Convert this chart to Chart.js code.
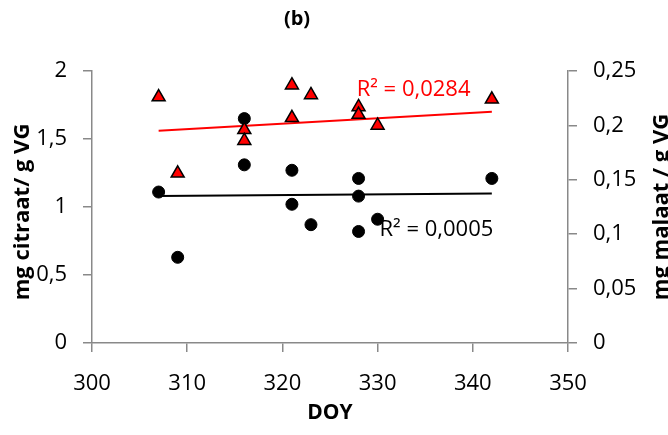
<!DOCTYPE html>
<html lang="nl">
<head>
  <meta charset="UTF-8" />
  <title>(b) citraat en malaat</title>
  <script src="https://cdn.jsdelivr.net/npm/chart.js"></script>
  <style>
    body { margin: 0; background: #fff; }
    #wrap { width: 668px; height: 435px; }
  </style>
</head>
<body>
  <div id="wrap"><canvas id="chart" width="668" height="435"></canvas></div>

  <script>
    // citraat (linker as), zwarte bolletjes
    const citraatDoy = [307, 309, 316, 316, 321, 321, 323, 328, 328, 328, 330, 342];
    const citraat    = [1.11, 0.63, 1.65, 1.31, 1.27, 1.02, 0.87, 1.21, 1.08, 0.82, 0.91, 1.21];

    // malaat (rechter as), rode driehoekjes
    const malaatDoy = [307, 309, 316, 316, 321, 321, 323, 328, 328, 330, 342];
    const malaat    = [0.226, 0.156, 0.196, 0.186, 0.237, 0.207, 0.228, 0.217, 0.210, 0.200, 0.224];

    const trendDoy     = [307, 342];
    const trendCitraat = [1.08, 1.10];
    const trendMalaat  = [0.195, 0.2125];

    const r2Citraat = 'R² = 0,0005';
    const r2Malaat  = 'R² = 0,0284';

    const pts = (xs, ys) => xs.map((x, i) => ({ x: x, y: ys[i] }));
    const komma = v => String(Number(v.toFixed(2))).replace('.', ',');

    const FONT = '"Open Sans", sans-serif';
    const GRIJS = '#898989';

    const tekstPlugin = {
      id: 'tekst',
      afterDraw(chart) {
        const ctx = chart.ctx;
        const x = chart.scales.x, y = chart.scales.y, y2 = chart.scales.y2;
        ctx.save();
        ctx.textBaseline = 'middle';

        // titel
        ctx.fillStyle = '#000';
        ctx.textAlign = 'center';
        ctx.font = 'bold 20px ' + FONT;
        ctx.fillText('(b)', 297, 19);

        // x-as titel
        ctx.font = 'bold 21px ' + FONT;
        ctx.fillText('DOY', 330, 413);

        // y-as titels
        ctx.font = 'bold 22px ' + FONT;
        ctx.save();
        ctx.translate(23, 212);
        ctx.rotate(-Math.PI / 2);
        ctx.fillText('mg citraat/ g VG', 0, 0);
        ctx.restore();
        ctx.save();
        ctx.translate(662, 207);
        ctx.rotate(-Math.PI / 2);
        ctx.fillText('mg malaat / g VG', 0, 0);
        ctx.restore();

        // R² labels
        ctx.textAlign = 'left';
        ctx.font = '22px ' + FONT;
        ctx.fillStyle = '#ff0000';
        ctx.fillText(r2Malaat, x.getPixelForValue(327.8), y2.getPixelForValue(0.233));
        ctx.fillStyle = '#000';
        ctx.fillText(r2Citraat, x.getPixelForValue(330.2), y.getPixelForValue(0.83));
        ctx.restore();
      }
    };

    const ctx = document.getElementById('chart').getContext('2d');
    new Chart(ctx, {
      type: 'scatter',
      data: {
        datasets: [
          {
            label: 'malaat',
            data: pts(malaatDoy, malaat),
            yAxisID: 'y2',
            pointStyle: 'triangle',
            pointRadius: 7.5,
            backgroundColor: '#ff0000',
            borderColor: '#000',
            borderWidth: 1.5,
            order: 0
          },
          {
            label: 'citraat',
            data: pts(citraatDoy, citraat),
            yAxisID: 'y',
            pointStyle: 'circle',
            pointRadius: 6,
            backgroundColor: '#000',
            borderColor: '#000',
            borderWidth: 1,
            order: 1
          },
          {
            label: 'trend malaat',
            type: 'line',
            data: pts(trendDoy, trendMalaat),
            yAxisID: 'y2',
            borderColor: '#ff0000',
            borderWidth: 2,
            pointRadius: 0,
            order: 2
          },
          {
            label: 'trend citraat',
            type: 'line',
            data: pts(trendDoy, trendCitraat),
            yAxisID: 'y',
            borderColor: '#000',
            borderWidth: 2,
            pointRadius: 0,
            order: 3
          }
        ]
      },
      options: {
        responsive: false,
        animation: false,
        layout: { padding: { top: 71, left: 0, right: 0, bottom: 0 } },
        plugins: { legend: { display: false }, tooltip: { enabled: false } },
        scales: {
          x: {
            type: 'linear',
            min: 300, max: 350,
            afterFit(s) { s.height = 92; },
            border: { color: GRIJS, width: 1.5 },
            grid: { drawOnChartArea: false, color: GRIJS, tickLength: 9, lineWidth: 1.5 },
            ticks: { stepSize: 10, color: '#000', padding: 19, font: { family: FONT, size: 22 } }
          },
          y: {
            position: 'left',
            min: 0, max: 2,
            afterFit(s) { s.width = 92; },
            border: { color: GRIJS, width: 1.5 },
            grid: { drawOnChartArea: false, color: GRIJS, tickLength: 9, lineWidth: 1.5 },
            ticks: { stepSize: 0.5, color: '#000', padding: 16, font: { family: FONT, size: 22 }, callback: komma }
          },
          y2: {
            position: 'right',
            min: 0, max: 0.25,
            afterFit(s) { s.width = 100; },
            border: { color: GRIJS, width: 1.5 },
            grid: { drawOnChartArea: false, color: GRIJS, tickLength: 9, lineWidth: 1.5 },
            ticks: { stepSize: 0.05, color: '#000', padding: 16, font: { family: FONT, size: 22 }, callback: komma }
          }
        }
      },
      plugins: [tekstPlugin]
    });
  </script>
</body>
</html>
